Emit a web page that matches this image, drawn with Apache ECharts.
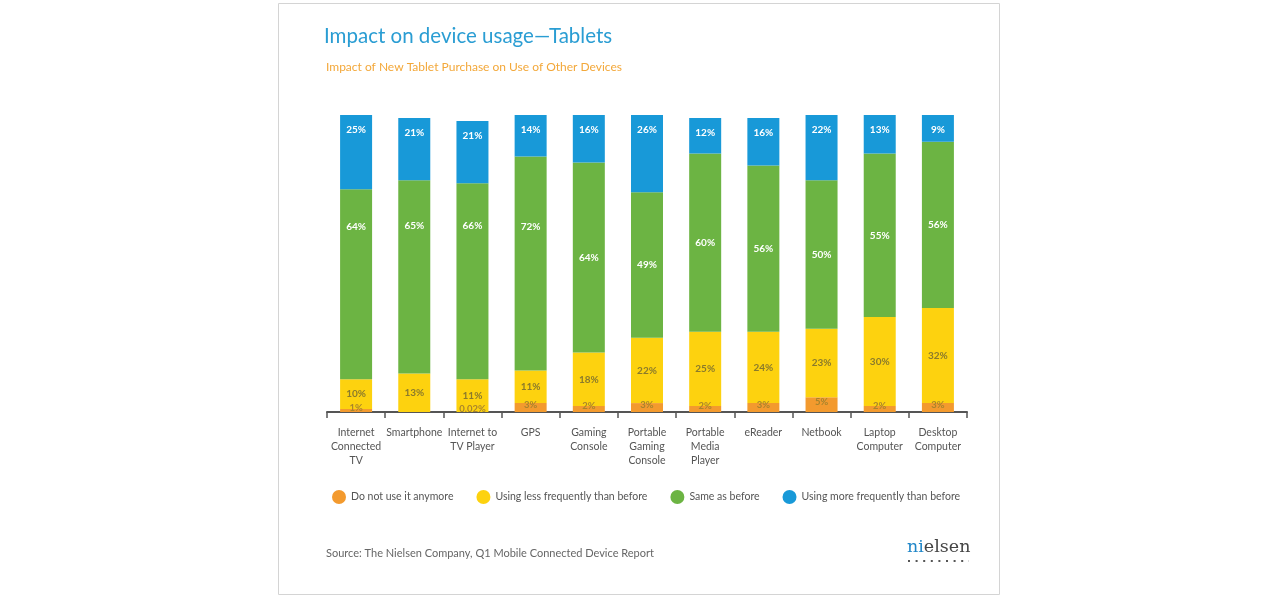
<!DOCTYPE html>
<html>
<head>
<meta charset="utf-8">
<title>Impact on device usage—Tablets</title>
<script src="https://cdn.jsdelivr.net/npm/echarts@6/dist/echarts.min.js"></script>
<style>
  html, body { margin: 0; padding: 0; background: #fff; }
  #chart { width: 1280px; height: 600px; }
</style>
</head>
<body>
<div id="chart"></div>
<script>
// categories along the x axis
var devices = [
  'Internet\nConnected\nTV', 'Smartphone', 'Internet to\nTV Player', 'GPS',
  'Gaming\nConsole', 'Portable\nGaming\nConsole', 'Portable\nMedia\nPlayer',
  'eReader', 'Netbook', 'Laptop\nComputer', 'Desktop\nComputer'
];

// share of tablet owners per answer, in %
var notAnymore = [1, 0, 0.02, 3, 2, 3, 2, 3, 5, 2, 3];
var lessOften  = [10, 13, 11, 11, 18, 22, 25, 24, 23, 30, 32];
var sameAs     = [64, 65, 66, 72, 64, 49, 60, 56, 50, 55, 56];
var moreOften  = [25, 21, 21, 14, 16, 26, 12, 16, 22, 13, 9];

var seriesNames = [
  'Do not use it anymore',
  'Using less frequently than before',
  'Same as before',
  'Using more frequently than before'
];

var FONT = 'Lato, "Open Sans", sans-serif';
var colors = ['#f39a2e', '#fdd20f', '#6cb443', '#1899d8'];

function pct(p) {
  return p.value ? p.value + '%' : '';
}

// in the source the green labels of the first four bars sit higher than the middle
var greenShift = [-58, -51, -55, -37];

var chart = echarts.init(document.getElementById('chart'));

var option = {
  backgroundColor: '#fff',
  color: colors,
  textStyle: { fontFamily: FONT },
  title: [
    {
      text: 'Impact on device usage—Tablets',
      left: 319,
      top: 21,
      textStyle: { color: '#2a9dd3', fontSize: 20.5, fontWeight: 'normal', fontFamily: FONT }
    },
    {
      text: 'Impact of New Tablet Purchase on Use of Other Devices',
      left: 321,
      top: 56,
      textStyle: { color: '#f3a83a', fontSize: 12, fontWeight: 'normal', fontFamily: FONT }
    },
    {
      text: 'Source: The Nielsen Company, Q1 Mobile Connected Device Report',
      left: 321,
      top: 543,
      textStyle: { color: '#666', fontSize: 11, fontWeight: 'normal', fontFamily: FONT }
    }
  ],
  graphic: [
    {
      type: 'rect',
      shape: { x: 278.5, y: 3.5, width: 721, height: 591 },
      style: { fill: 'none', stroke: '#d4d4d4', lineWidth: 1 },
      silent: true
    },
    {
      type: 'text',
      left: 907,
      top: 538,
      style: {
        text: '{b|ni}{g|elsen}',
        rich: {
          b: { fill: '#1f86c8', fontSize: 17.5, fontFamily: '"DejaVu Serif", serif' },
          g: { fill: '#444', fontSize: 17.5, fontFamily: '"DejaVu Serif", serif' }
        }
      }
    },
    {
      // dotted rule under the logo
      type: 'line',
      shape: { x1: 908, y1: 561, x2: 969, y2: 561 },
      style: { stroke: '#555', lineWidth: 2, lineDash: [2, 5.6] },
      silent: true
    }
  ],
  legend: {
    left: 327,
    top: 485,
    icon: 'circle',
    itemWidth: 14,
    itemHeight: 14,
    itemGap: 23,
    selectedMode: false,
    textStyle: { color: '#555', fontSize: 10.5, fontFamily: FONT },
    data: seriesNames
  },
  grid: { left: 327, right: 313, top: 115, bottom: 188 },
  xAxis: {
    type: 'category',
    data: devices,
    axisLine: { lineStyle: { color: '#555', width: 2 } },
    axisTick: { show: true, length: 6, lineStyle: { color: '#555', width: 1.5 } },
    axisLabel: { color: '#555', fontSize: 10.5, lineHeight: 14, margin: 14, interval: 0, fontFamily: FONT }
  },
  yAxis: {
    type: 'value',
    min: 0,
    max: 100,
    show: false,
    splitLine: { show: false }
  },
  series: [
    {
      name: seriesNames[0],
      type: 'bar',
      stack: 'all',
      barWidth: 32,
      data: notAnymore,
      label: {
        show: true, position: 'inside', offset: [0, -3], formatter: pct,
        color: '#a8842c', fontSize: 9.5, fontWeight: 'bold', fontFamily: FONT
      }
    },
    {
      name: seriesNames[1],
      type: 'bar',
      stack: 'all',
      barWidth: 32,
      data: lessOften,
      label: {
        show: true, position: 'inside', formatter: pct,
        color: '#8a7a2c', fontSize: 10, fontWeight: 'bold', fontFamily: FONT
      }
    },
    {
      name: seriesNames[2],
      type: 'bar',
      stack: 'all',
      barWidth: 32,
      data: sameAs.map(function (v, i) {
        if (i < greenShift.length) {
          return { value: v, label: { offset: [0, greenShift[i]] } };
        }
        return v;
      }),
      label: {
        show: true, position: 'inside', formatter: pct,
        color: '#fff', fontSize: 10, fontWeight: 'bold', fontFamily: FONT
      }
    },
    {
      name: seriesNames[3],
      type: 'bar',
      stack: 'all',
      barWidth: 32,
      data: moreOften,
      label: {
        show: true, position: 'insideTop', distance: 10, formatter: pct,
        color: '#fff', fontSize: 10, fontWeight: 'bold', fontFamily: FONT
      }
    }
  ]
};

chart.setOption(option);
</script>
</body>
</html>
